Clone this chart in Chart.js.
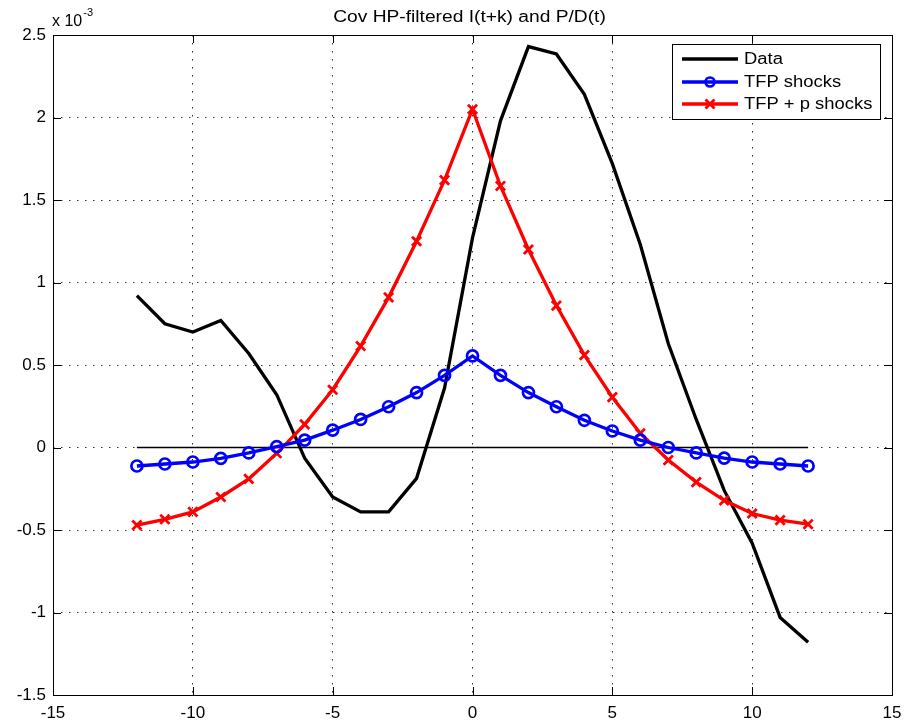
<!DOCTYPE html>
<html>
<head>
<meta charset="utf-8">
<title>Cov HP-filtered I(t+k) and P/D(t)</title>
<script src="https://cdn.jsdelivr.net/npm/chart.js@4.4.1/dist/chart.umd.min.js"></script>
<style>
    html, body { margin: 0; padding: 0; background: #fff; }
    #wrap { width: 904px; height: 726px; }
</style>
</head>
<body>
<div id="wrap"><canvas id="covChart"></canvas></div>
<script>
// Lag k (quarters)
const lags = [-12, -11, -10, -9, -8, -7, -6, -5, -4, -3, -2, -1, 0, 1, 2, 3, 4, 5, 6, 7, 8, 9, 10, 11, 12];

// Covariances, in units of 1e-3
const dataCov = [0.92, 0.75, 0.70, 0.77, 0.57, 0.32, -0.065, -0.30, -0.39, -0.39, -0.187, 0.36, 1.27, 1.98, 2.43, 2.385, 2.14, 1.72, 1.23, 0.63, 0.17, -0.26, -0.58, -1.03, -1.18];
const tfpCov = [-0.112, -0.10, -0.088, -0.066, -0.033, 0.005, 0.045, 0.105, 0.17, 0.247, 0.333, 0.437, 0.555, 0.437, 0.333, 0.247, 0.165, 0.10, 0.045, 0.0, -0.033, -0.064, -0.088, -0.10, -0.112];
const tfpPCov = [-0.47, -0.435, -0.39, -0.30, -0.19, -0.035, 0.14, 0.35, 0.615, 0.91, 1.25, 1.62, 2.05, 1.585, 1.20, 0.86, 0.56, 0.305, 0.086, -0.076, -0.21, -0.32, -0.40, -0.44, -0.465];

// Zero reference line
const zeroLags = [-12, 12];
const zeroVals = [0, 0];

const xTicks = [-15, -10, -5, 0, 5, 10, 15];
const yTicks = [-1.5, -1, -0.5, 0, 0.5, 1, 1.5, 2, 2.5];
const yExponent = '-3';

const seriesNames = ['Data', 'TFP shocks', 'TFP + p shocks'];
const titleText = 'Cov HP-filtered I(t+k) and P/D(t)';

const FONT = "'Liberation Sans', Arial, Helvetica, sans-serif";

function toPoints(xs, ys) {
    return xs.map((x, i) => ({ x: x, y: ys[i] }));
}

function fmtTick(v) {
    return String(Math.round(v * 10) / 10);
}

// text drawn slightly stretched horizontally, like the exported figure fonts
function wideText(ctx, text, x, y, sx) {
    ctx.save();
    ctx.translate(x, y);
    ctx.scale(sx, 1);
    ctx.fillText(text, 0, 0);
    ctx.restore();
}

// Axes box, inward tick marks, title, exponent and legend
const framePlugin = {
    id: 'frame',
    afterDraw(chart) {
        const ctx = chart.ctx;
        const a = chart.chartArea;
        const xs = chart.scales.x;
        const ys = chart.scales.y;
        const tickLen = 8;

        ctx.save();
        ctx.strokeStyle = '#000';
        ctx.lineWidth = 1;
        ctx.setLineDash([]);
        ctx.strokeRect(a.left + 0.5, a.top + 0.5, a.right - a.left, a.bottom - a.top);

        ctx.beginPath();
        xTicks.forEach(v => {
            const px = Math.round(xs.getPixelForValue(v)) + 0.5;
            ctx.moveTo(px, a.bottom);
            ctx.lineTo(px, a.bottom - tickLen);
            ctx.moveTo(px, a.top);
            ctx.lineTo(px, a.top + tickLen);
        });
        yTicks.forEach(v => {
            const py = Math.round(ys.getPixelForValue(v)) + 0.5;
            ctx.moveTo(a.left, py);
            ctx.lineTo(a.left + tickLen, py);
            ctx.moveTo(a.right, py);
            ctx.lineTo(a.right - tickLen, py);
        });
        ctx.stroke();

        // title
        ctx.fillStyle = '#000';
        ctx.font = '16px ' + FONT;
        ctx.textAlign = 'left';
        ctx.textBaseline = 'alphabetic';
        const tw = ctx.measureText(titleText).width * 1.2;
        wideText(ctx, titleText, (a.left + a.right) / 2 - 3 - tw / 2, 22, 1.2);

        // exponent label above the y axis
        ctx.font = '16px ' + FONT;
        ctx.fillText('x 10', a.left - 1, 26);
        const w = ctx.measureText('x 10').width;
        ctx.font = '11px ' + FONT;
        ctx.fillText(yExponent, a.left + w, 16);

        // legend
        const box = { left: 672, top: 44, right: 880, bottom: 119 };
        ctx.fillStyle = '#fff';
        ctx.fillRect(box.left, box.top, box.right - box.left, box.bottom - box.top);
        ctx.strokeRect(box.left + 0.5, box.top + 0.5, box.right - box.left, box.bottom - box.top);

        const rows = [59, 82, 104];
        chart.data.datasets.slice(0, 3).forEach((ds, i) => {
            const y = rows[i];
            ctx.strokeStyle = ds.borderColor;
            ctx.lineWidth = ds.borderWidth;
            ctx.beginPath();
            ctx.moveTo(682, y);
            ctx.lineTo(738, y);
            ctx.stroke();
            ctx.lineWidth = ds.pointBorderWidth || ds.borderWidth;
            if (ds.pointStyle === 'circle' && ds.pointRadius > 0) {
                ctx.beginPath();
                ctx.arc(710, y, 4.5, 0, Math.PI * 2);
                ctx.stroke();
            } else if (ds.pointStyle === 'crossRot' && ds.pointRadius > 0) {
                const r = 4.5;
                ctx.beginPath();
                ctx.moveTo(710 - r, y - r);
                ctx.lineTo(710 + r, y + r);
                ctx.moveTo(710 - r, y + r);
                ctx.lineTo(710 + r, y - r);
                ctx.stroke();
            }
            ctx.fillStyle = '#000';
            ctx.font = '16px ' + FONT;
            ctx.textBaseline = 'middle';
            wideText(ctx, ds.label, 744, y + 1, 1.15);
        });
        ctx.restore();
    }
};

const ctx = document.getElementById('covChart');

new Chart(ctx, {
    type: 'line',
    data: {
        datasets: [{
            label: seriesNames[0],
            data: toPoints(lags, dataCov),
            borderColor: '#000000',
            borderWidth: 3.3,
            pointRadius: 0,
            pointStyle: false,
            order: 3
        }, {
            label: seriesNames[1],
            data: toPoints(lags, tfpCov),
            borderColor: '#0000ff',
            backgroundColor: 'rgba(0,0,0,0)',
            borderWidth: 3.3,
            pointStyle: 'circle',
            pointRadius: 5.5,
            pointBorderWidth: 2.7,
            pointBorderColor: '#0000ff',
            pointBackgroundColor: 'rgba(0,0,0,0)',
            order: 1
        }, {
            label: seriesNames[2],
            data: toPoints(lags, tfpPCov),
            borderColor: '#ff0000',
            borderWidth: 3.3,
            pointStyle: 'crossRot',
            pointRadius: 6.5,
            pointBorderWidth: 2.8,
            pointBorderColor: '#ff0000',
            order: 2
        }, {
            label: 'zero',
            data: toPoints(zeroLags, zeroVals),
            borderColor: '#000000',
            borderWidth: 1.6,
            pointRadius: 0,
            order: 4
        }]
    },
    options: {
        responsive: true,
        maintainAspectRatio: false,
        animation: false,
        devicePixelRatio: 1,
        layout: {
            padding: { left: 0, right: 12, top: 35, bottom: 0 }
        },
        elements: {
            line: { tension: 0, borderJoinStyle: 'miter' }
        },
        scales: {
            x: {
                type: 'linear',
                min: -15,
                max: 15,
                afterBuildTicks: s => { s.ticks = xTicks.map(v => ({ value: v })); },
                afterFit: s => {
                    s.height = 31;
                    s.paddingLeft = 0;
                    s.paddingRight = 0;
                },
                border: { display: false, dash: [1.5, 6.5] },
                grid: {
                    color: '#333',
                    lineWidth: 1,
                    drawTicks: false
                },
                ticks: {
                    color: '#000',
                    padding: 8,
                    maxRotation: 0,
                    font: { family: FONT, size: 17 },
                    callback: v => fmtTick(v)
                }
            },
            y: {
                type: 'linear',
                min: -1.5,
                max: 2.5,
                afterBuildTicks: s => { s.ticks = yTicks.map(v => ({ value: v })); },
                afterFit: s => {
                    s.width = 53;
                    s.paddingTop = 0;
                    s.paddingBottom = 0;
                },
                border: { display: false, dash: [1.5, 6.5] },
                grid: {
                    color: '#333',
                    lineWidth: 1,
                    drawTicks: false
                },
                ticks: {
                    color: '#000',
                    padding: 7,
                    font: { family: FONT, size: 17 },
                    callback: v => fmtTick(v)
                }
            }
        },
        plugins: {
            legend: { display: false },
            title: { display: false },
            tooltip: { enabled: false }
        }
    },
    plugins: [framePlugin]
});
</script>
</body>
</html>
